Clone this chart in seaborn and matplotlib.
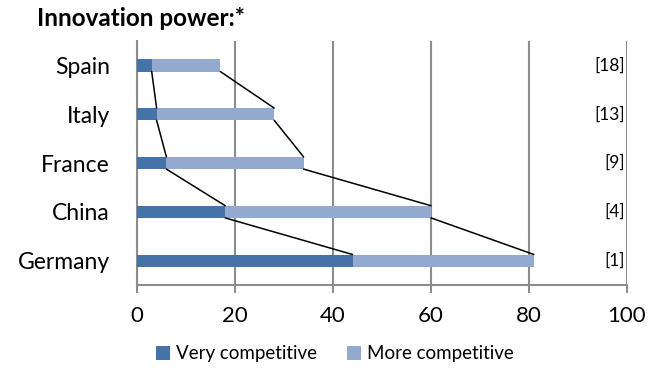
import pandas as pd
import numpy as np
import matplotlib.pyplot as plt
import seaborn as sns

countries = ['Spain', 'Italy', 'France', 'China', 'Germany']
very = [3, 4, 6, 18, 44]
more = [14, 24, 28, 42, 37]
ranks = ['[18]', '[13]', '[9]', '[4]', '[1]']
xticks = [0, 20, 40, 60, 80, 100]

df = pd.DataFrame({'country': countries, 'very': very, 'more': more})
df['total'] = df['very'] + df['more']

sns.set_style('white', {'text.color': 'black', 'xtick.color': 'black',
                        'ytick.color': 'black'})
plt.rcParams['font.family'] = ['Lato', 'DejaVu Sans']

fig = plt.figure(figsize=(6.61, 3.68), dpi=100)
ax = fig.add_axes([137/661, 1-285/368, 490/661, 244/368])

bw = 0.25
sns.barplot(data=df, y='country', x='total', color='#93A9D0', width=bw, ax=ax,
            orient='h', saturation=1, label='More competitive', zorder=3,
            linewidth=0)
sns.barplot(data=df, y='country', x='very', color='#4572A7', width=bw, ax=ax,
            orient='h', saturation=1, label='Very competitive', zorder=3,
            linewidth=0)
h, l = ax.get_legend_handles_labels()
if ax.get_legend() is not None:
    ax.get_legend().remove()

# series lines between bars
pos = np.arange(len(countries))
for col in ['very', 'total']:
    v = df[col].values
    for i in range(len(v) - 1):
        ax.plot([v[i], v[i+1]], [pos[i] + bw/2, pos[i+1] - bw/2],
                color='black', lw=1.1, zorder=4)

for i, r in enumerate(ranks):
    ax.text(99.6, i, r, va='center', ha='right', fontsize=12.5, color='black')

ax.set_xlim(0, 100)
ax.set_ylim(4.5, -0.5)
ax.set_xticks(xticks)
ax.grid(axis='x', color='#8c8c8c', lw=1.5, zorder=0)
ax.set_axisbelow(True)
for s in ['top', 'right']:
    ax.spines[s].set_visible(False)
for s in ['bottom', 'left']:
    ax.spines[s].set_color('#8c8c8c')
    ax.spines[s].set_linewidth(1.5)
ax.tick_params(axis='x', direction='out', length=6, width=1.5, color='#8c8c8c',
               labelcolor='black', labelsize=16, pad=9, bottom=True)
ax.tick_params(axis='y', length=0, labelsize=16.5, labelcolor='black', pad=19.5)
ax.set_xlabel('')
ax.set_ylabel('')

order = [l.index('Very competitive'), l.index('More competitive')]
fig.legend([h[k] for k in order], [l[k] for k in order], loc='center',
           bbox_to_anchor=(335/661, 1-354/368), ncol=2, frameon=False, fontsize=13.5,
           handlelength=0.75, handleheight=0.75, handletextpad=0.3, columnspacing=1.6,
           labelcolor='black')

fig.text(37/661, 1-19/368, 'Innovation power:*', fontsize=17.5, fontweight='bold',
         va='center', ha='left', color='black')

fig.savefig('out.png', dpi=100)
